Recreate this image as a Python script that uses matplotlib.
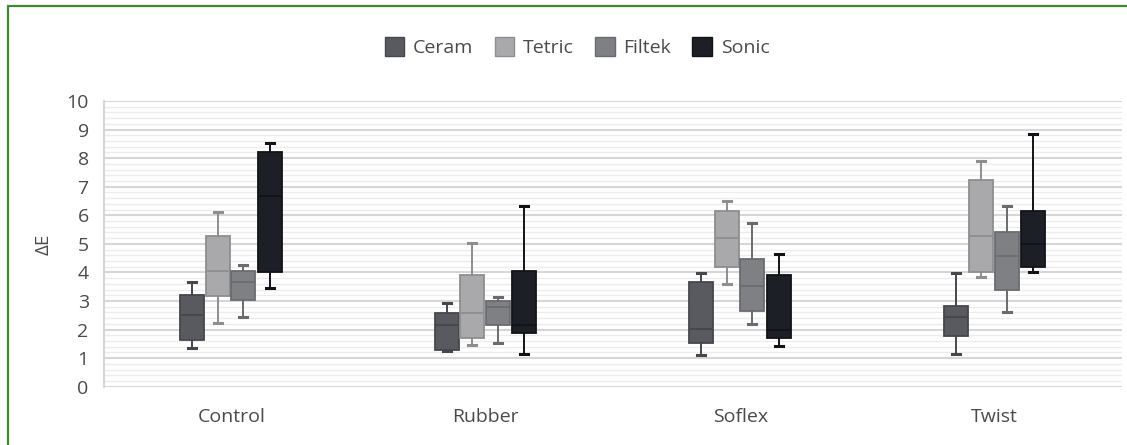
import matplotlib.pyplot as plt
import numpy as np
from matplotlib.patches import Patch, Rectangle
from matplotlib.ticker import MultipleLocator

# categories and materials
categories = ["Control", "Rubber", "Soflex", "Twist"]
materials = ["Ceram", "Tetric", "Filtek", "Sonic"]

# per material, per category: (whisker low, q1, median, q3, whisker high)
ceram = [(1.37, 1.63, 2.51, 3.20, 3.65),
         (1.25, 1.28, 2.16, 2.57, 2.93),
         (1.11, 1.53, 2.03, 3.68, 3.98),
         (1.16, 1.77, 2.45, 2.82, 3.99)]
tetric = [(2.24, 3.19, 4.06, 5.29, 6.13),
          (1.47, 1.72, 2.58, 3.90, 5.04),
          (3.61, 4.19, 5.22, 6.14, 6.50),
          (3.84, 4.03, 5.27, 7.23, 7.90)]
filtek = [(2.44, 3.03, 3.65, 4.06, 4.25),
          (1.54, 2.16, 2.78, 3.00, 3.13),
          (2.18, 2.65, 3.51, 4.46, 5.74),
          (2.61, 3.38, 4.57, 5.41, 6.32)]
sonic = [(3.47, 4.02, 6.67, 8.20, 8.52),
         (1.13, 1.88, 2.15, 4.04, 6.34),
         (1.44, 1.72, 1.97, 3.92, 4.64),
         (4.00, 4.20, 4.98, 6.15, 8.85)]

series = [ceram, tetric, filtek, sonic]
fills = ["#595a5f", "#a9a9ab", "#7f8083", "#1c1f26"]
edges = ["#46474c", "#8e8e91", "#6a6b6f", "#111318"]
txt = "#4a4a4a"

fig = plt.figure(figsize=(11.27, 4.45), dpi=100)
ax = fig.add_axes([104 / 1127, 58.3 / 445, 1018 / 1127, 285.7 / 445])

x = np.arange(len(categories))
offsets = [-0.153, -0.053, 0.047, 0.151]

for data, off, fc, ec in zip(series, offsets, fills, edges):
    stats = []
    for lo, q1, med, q3, hi in data:
        stats.append(dict(whislo=lo, q1=q1, med=med, q3=q3, whishi=hi, fliers=[]))
    ax.bxp(stats, positions=x + off, widths=0.094, capwidths=0.032,
           patch_artist=True, showfliers=False, manage_ticks=False,
           boxprops=dict(facecolor=fc, edgecolor=ec, linewidth=1.3),
           medianprops=dict(color=ec, linewidth=1.3),
           whiskerprops=dict(color=ec, linewidth=1.4),
           capprops=dict(color=ec, linewidth=2.2))

# grid
ax.set_ylim(0, 10)
ax.set_xlim(-0.5, 3.5)
ax.yaxis.set_major_locator(MultipleLocator(1))
ax.yaxis.set_minor_locator(MultipleLocator(0.2))
ax.grid(which="major", axis="y", color="#d6d6d6", linewidth=1.5, zorder=0)
ax.grid(which="minor", axis="y", color="#ececec", linewidth=1.0, zorder=0)
ax.set_axisbelow(True)

for s in ["top", "right", "bottom"]:
    ax.spines[s].set_visible(False)
ax.spines["left"].set_color("#d6d6d6")
ax.spines["left"].set_linewidth(1.5)

ax.set_xticks(x)
ax.set_xticklabels(categories, fontsize=14, color=txt, family="Open Sans")
ax.tick_params(axis="x", length=0, pad=15)
ax.tick_params(axis="y", which="both", length=0, pad=11, labelsize=14, labelcolor=txt)
for t in ax.get_yticklabels():
    t.set_family("Open Sans")
ax.set_ylabel("ΔE", fontsize=13.5, color=txt, family="Open Sans", labelpad=10)

handles = [Patch(facecolor=fc, edgecolor=ec, label=m) for m, fc, ec in zip(materials, fills, edges)]
fig.legend(handles=handles, loc="center", bbox_to_anchor=(0.512, 0.894), ncol=4,
           frameon=False, handlelength=1.0, handleheight=1.1, handletextpad=0.45,
           columnspacing=1.1, prop=dict(family="Open Sans", size=14), labelcolor=txt)

# green frame around the figure
fig.patches.append(Rectangle((7.5 / 1127, -0.1), 1.2, 1 - 6 / 445 + 0.1, transform=fig.transFigure,
                             fill=False, edgecolor="#3c8c2c", linewidth=1.6))

fig.savefig("out.png", dpi=100)
